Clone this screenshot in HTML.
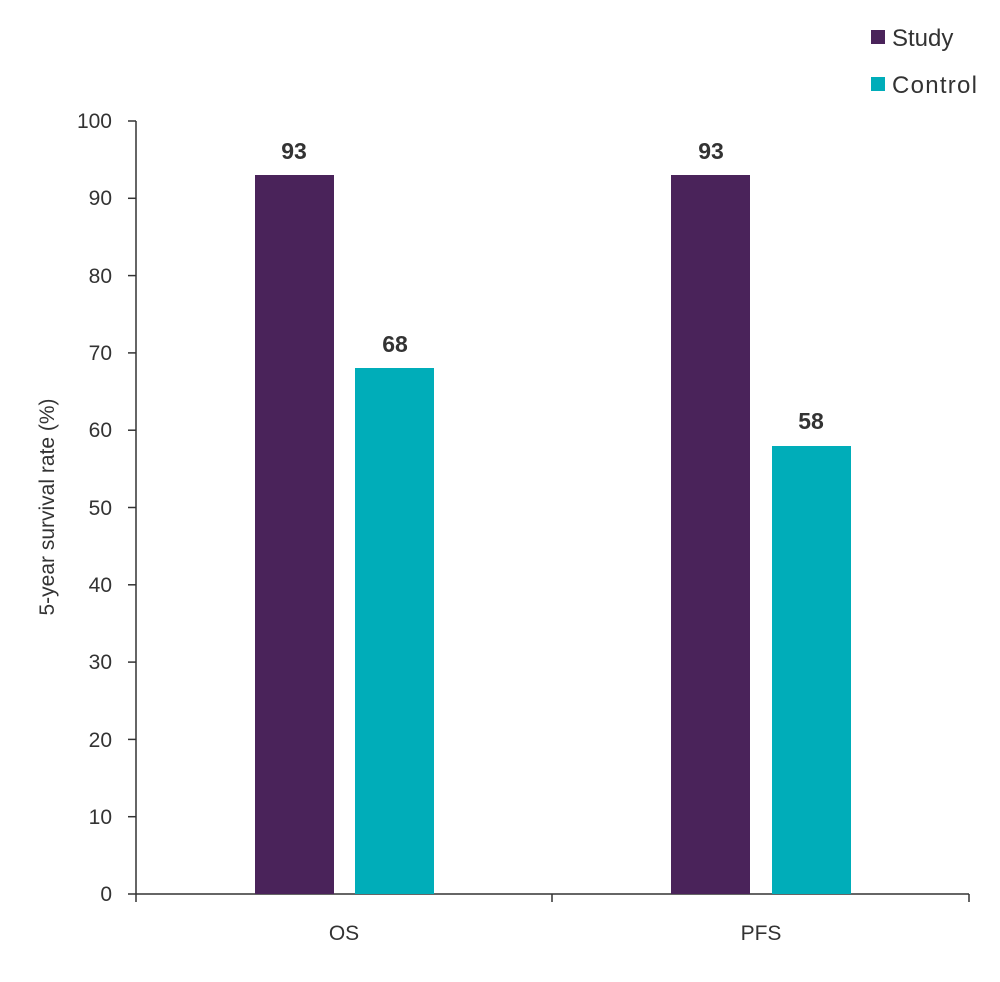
<!DOCTYPE html>
<html><head><style>body{margin:0;background:#fff}</style></head><body>
<svg width="1000" height="977" xmlns="http://www.w3.org/2000/svg" font-family="Liberation Sans, sans-serif" fill="#333">
<rect width="1000" height="977" fill="#fff"/>
<rect x="871" y="30" width="14" height="14" fill="#4a235a"/>
<text x="892" y="46" font-size="24">Study</text>
<rect x="871" y="77" width="14" height="14" fill="#00adb9"/>
<text x="892" y="93" font-size="24" textLength="85">Control</text>
<g stroke="#333" stroke-width="1.5">
<line x1="136" y1="121" x2="136" y2="894"/>
<line x1="136" y1="894" x2="969" y2="894"/>
<line x1="128" y1="121" x2="136" y2="121"/><line x1="128" y1="198.3" x2="136" y2="198.3"/>
<line x1="128" y1="275.6" x2="136" y2="275.6"/><line x1="128" y1="352.9" x2="136" y2="352.9"/>
<line x1="128" y1="430.2" x2="136" y2="430.2"/><line x1="128" y1="507.5" x2="136" y2="507.5"/>
<line x1="128" y1="584.8" x2="136" y2="584.8"/><line x1="128" y1="662.1" x2="136" y2="662.1"/>
<line x1="128" y1="739.4" x2="136" y2="739.4"/><line x1="128" y1="816.7" x2="136" y2="816.7"/>
<line x1="128" y1="894" x2="136" y2="894"/>
<line x1="136" y1="894" x2="136" y2="902"/><line x1="552" y1="894" x2="552" y2="902"/><line x1="969" y1="894" x2="969" y2="902"/>
</g>
<g font-size="21" text-anchor="end">
<text x="112" y="128">100</text><text x="112" y="205">90</text><text x="112" y="283">80</text>
<text x="112" y="360">70</text><text x="112" y="437">60</text><text x="112" y="515">50</text>
<text x="112" y="592">40</text><text x="112" y="669">30</text><text x="112" y="747">20</text>
<text x="112" y="824">10</text><text x="112" y="901">0</text>
</g>
<text transform="translate(54,507) rotate(-90)" font-size="21" text-anchor="middle">5-year survival rate (%)</text>
<rect x="255" y="175" width="79" height="719" fill="#4a235a"/>
<rect x="355" y="368" width="79" height="526" fill="#00adb9"/>
<rect x="671" y="175" width="79" height="719" fill="#4a235a"/>
<rect x="772" y="446" width="79" height="448" fill="#00adb9"/>
<g font-size="23" font-weight="bold" text-anchor="middle">
<text x="294" y="159">93</text><text x="395" y="352">68</text>
<text x="711" y="159">93</text><text x="811" y="429">58</text>
</g>
<g font-size="21" text-anchor="middle">
<text x="344" y="940">OS</text><text x="761" y="940">PFS</text>
</g>
</svg>
</body></html>
